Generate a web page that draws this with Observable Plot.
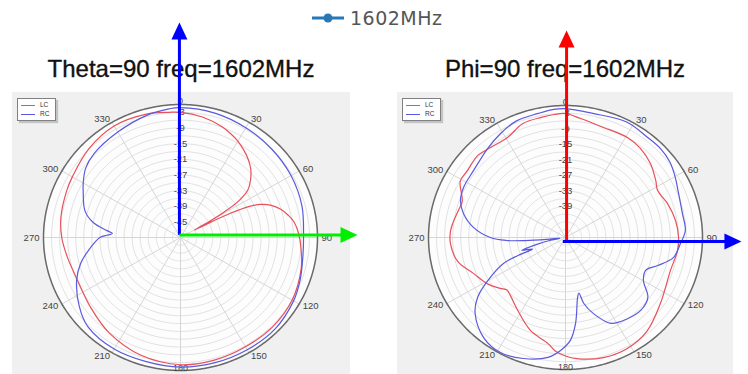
<!DOCTYPE html>
<html><head><meta charset="utf-8">
<script src="https://cdn.jsdelivr.net/npm/d3@7"></script>
<script src="https://cdn.jsdelivr.net/npm/@observablehq/plot@0.6"></script>
<style>
html,body{margin:0;padding:0;background:#fff;}
#root{position:relative;width:748px;height:374px;overflow:hidden;font-family:"Liberation Sans",Arial,sans-serif;}
.panel{position:absolute;background:#f0f0f0;}
.title{position:absolute;top:55px;font-size:24px;color:#111;white-space:nowrap;transform:translateX(-50%);-webkit-text-stroke:0.35px #111;}
.mini{position:absolute;width:37px;height:21px;background:#fff;border:1px solid #808080;box-shadow:2px 2px 1px #c4c4c4;font-size:6.5px;color:#333;}
.mini .row{position:absolute;left:3px;height:8px;line-height:8px;}
.mini .sw{display:inline-block;width:14px;height:0;border-top:1px solid;vertical-align:middle;margin-right:5px;}
.layer{position:absolute;left:0;top:0;}
#legend{position:absolute;left:311px;top:7px;height:22px;font-family:"DejaVu Sans",sans-serif;font-size:19px;letter-spacing:0.5px;color:#555;white-space:nowrap;}
</style></head><body>
<div id="root">
  <div class="panel" style="left:12px;top:92px;width:338px;height:290px"></div>
  <div class="panel" style="left:397px;top:92px;width:336px;height:290px"></div>
  <div id="legend"></div>
  <div class="title" id="t1" style="left:181px"></div>
  <div class="title" id="t2" style="left:565px"></div>
  <div class="mini" style="left:17px;top:98px"><div class="row" style="top:2px"><span class="sw" style="border-color:#e8505a"></span>LC</div><div class="row" style="top:11px"><span class="sw" style="border-color:#5a5ade"></span>RC</div></div>
  <div class="mini" style="left:402px;top:98px"><div class="row" style="top:2px"><span class="sw" style="border-color:#e8505a"></span>LC</div><div class="row" style="top:11px"><span class="sw" style="border-color:#5a5ade"></span>RC</div></div>
</div>
<script>
// ---------------- data ----------------
const legendLabel = "1602MHz";
const leftTitle = "Theta=90 freq=1602MHz";
const rightTitle = "Phi=90 freq=1602MHz";
const seriesNames = ["LC", "RC"];
const angleTicks = [0, 30, 60, 90, 120, 150, 180, 210, 240, 270, 300, 330];
const ringValues = [-48, -45, -42, -39, -36, -33, -30, -27, -24, -21, -18, -15, -12, -9, -6, -3, 0];
const leftRadialLabels = [-3, -9, -15, -21, -27, -33, -39, -45];
const rightRadialLabels = [-3, -9, -15, -21, -27, -33, -39];

// Theta=90 plane
const leftLCdeg = [0,10,20,25,30,35,40,45,50,54,57,59,60.5,61.5,62.5,63.5,65,67,70,74,78,82,88,95,105,120,135,150,165,180,198,216,231,247,260,270,280,293,300,315,330,345,355];
const leftLCdb  = [-3,-4.1,-5.8,-7,-8.3,-10,-11.8,-14,-17,-20,-25,-32,-40,-45,-38,-30,-23,-18.5,-15,-12,-10,-8.3,-7,-6,-4.5,-3,-2.5,-2.6,-2.3,-2.2,-3.5,-5.8,-8.1,-9.3,-8.2,-6.8,-5.8,-5,-4.5,-2.8,-1.6,-2,-2.8];
const leftRCdeg = [0,15,30,45,60,75,90,100,110,120,135,150,165,180,195,210,225,235,247,255,262,270,272,273.5,275.5,280,286,296,300,307,315,330,345,355];
const leftRCdb  = [-1.2,-1.6,-2.4,-3,-3.5,-4.2,-5.2,-4.8,-3.6,-2.4,-1.3,-1.3,-1.3,-1.3,-1.7,-1.6,-2.4,-5,-9,-12.5,-16.5,-21,-24,-25.6,-23.5,-18,-14,-10.7,-9.2,-6.8,-5.5,-4.3,-2.5,-1.5];

// Phi=90 plane
const rightLCdeg = [0,7,18,31,39,48,57,62,71,81,90,97,108,126,140,152,163,175,180,185,189,200,212,222,227,231,238,248,257,267,273,277,285,290,299,305,314,321,331,340,349,355];
const rightLCdb  = [-3.1,-4.7,-6.2,-6,-6.7,-8.4,-10.9,-12.2,-10.8,-9.5,-8.9,-9,-9.9,-7.4,-3.8,-2.3,-2.5,-4,-5.2,-7,-9.5,-12.8,-17.6,-20.5,-21.2,-19.8,-17,-14,-9.8,-8.1,-8.1,-8.6,-9.8,-10.1,-6.2,-6.3,-5.5,-6.4,-6.7,-4.2,-3.7,-3.3];
const rightRCdeg = [0,12,27,38,46,53,60,68,78,86.5,93,101,107.5,113,120,127,135,144,153,160.5,165,167,169,173.6,177.4,182.4,188,198.5,208.6,218,229,234.7,240,246.5,248.5,250,253,256,259,262,264,265.5,267,270,276.5,283.7,290,297,307,320,329,338,348,355];
const rightRCdb  = [-1.2,-2,-0.9,-1.7,-1.7,-2.4,-3.9,-5.6,-6.5,-6.3,-8.1,-10.1,-15,-18.6,-17.5,-12.6,-11.3,-12.1,-13.8,-19.8,-24.6,-29,-27.4,-17.5,-11.2,-7.3,-4.2,-1.7,-0.4,-1.7,-6.4,-10.9,-17.6,-25.8,-32,-38,-34,-40,-45,-49,-44,-36,-29,-23,-16.5,-11.9,-9.4,-8.4,-8.1,-6,-4.1,-2.4,-2,-1.3];

// ---------------- drawing ----------------
const DB_MIN = -51;
const R = -DB_MIN;
const rad = d => d * Math.PI / 180;
const px = (deg, db) => (db - DB_MIN) * Math.sin(rad(deg));
const py = (deg, db) => (db - DB_MIN) * Math.cos(rad(deg));

function series(degs, dbs, name) {
  return degs.map((a, i) => ({name, x: px(a, dbs[i]), y: py(a, dbs[i])}));
}
function ring(v, n = 180) {
  return d3.range(n).map(i => ({ring: v, x: px(i * 360 / n, v), y: py(i * 360 / n, v)}));
}

const headUp = {draw(ctx) { ctx.moveTo(0, 0); ctx.lineTo(8, 17); ctx.lineTo(-8, 17); ctx.closePath(); }};

function polarPanel({cx, cy, rx, ry, lc, rc, labels, arrows}) {
  const ux = rx / R, uy = ry / R; // px per unit
  const rings = ringValues.flatMap(v => ring(v));
  const outer = ring(0, 360);
  const ang = (f) => angleTicks.filter(f);
  const lab = (a) => ({a, x: (R + 1.5) * Math.sin(rad(a)), y: (R + 1.5) * Math.cos(rad(a))});
  const shafts = arrows.map(a => {
    const back = 12 / (a.dir === "up" ? uy : ux);
    return {...a, x2: a.dir === "up" ? a.x0 : a.tip - back, y2: a.dir === "up" ? a.tip - back : a.y0};
  });
  const heads = arrows.map(a => ({...a, hx: a.dir === "up" ? a.x0 : a.tip, hy: a.dir === "up" ? a.tip : a.y0}));
  const marks = [
    Plot.line(outer, {x: "x", y: "y", fill: "#fdfdfd", stroke: "none", curve: "linear-closed"}),
    Plot.line(rings, {x: "x", y: "y", z: "ring", stroke: "#dedede", strokeWidth: 0.9, curve: "linear-closed"}),
    Plot.link(angleTicks, {x1: () => 0, y1: () => 0, x2: a => R * Math.sin(rad(a)), y2: a => R * Math.cos(rad(a)), stroke: "#d6d6d6", strokeWidth: 1}),
    Plot.line(outer, {x: "x", y: "y", stroke: "#6a6a6a", strokeWidth: 1.5, curve: "linear-closed"}),
    Plot.text(labels, {x: () => 0, y: v => v - DB_MIN, text: v => String(v), fill: "#444", fontSize: 9.5}),
    Plot.text(ang(a => a > 0 && a < 180).map(lab), {x: "x", y: "y", text: d => String(d.a), textAnchor: "start", fill: "#444", fontSize: 9.5}),
    Plot.text(ang(a => a > 180).map(lab), {x: "x", y: "y", text: d => String(d.a), textAnchor: "end", fill: "#444", fontSize: 9.5}),
    Plot.text(ang(a => a === 0).map(lab), {x: "x", y: "y", text: d => String(d.a), textAnchor: "middle", fill: "#444", fontSize: 9.5}),
    Plot.text(ang(a => a === 180).map(lab), {x: "x", y: "y", text: d => String(d.a), textAnchor: "middle", dy: -6, fill: "#444", fontSize: 9}),
    Plot.line(lc, {x: "x", y: "y", stroke: "#e8505a", strokeWidth: 1.2, curve: "catmull-rom-closed"}),
    Plot.line(rc, {x: "x", y: "y", stroke: "#5a5ade", strokeWidth: 1.2, curve: "catmull-rom-closed"}),
    ...shafts.map(s => Plot.link([s], {x1: "x0", y1: "y0", x2: "x2", y2: "y2", stroke: s.color, strokeWidth: 3})),
    ...heads.map(h => Plot.dot([h], {x: "hx", y: "hy", symbol: headUp, fill: h.color, stroke: "none", rotate: h.dir === "up" ? 0 : 90}))
  ];
  return Plot.plot({
    width: 748, height: 374,
    x: {domain: [-R, R], range: [cx - rx, cx + rx], axis: null},
    y: {domain: [-R, R], range: [cy + ry, cy - ry], axis: null},
    style: {background: "none", overflow: "visible", fontFamily: "'Liberation Sans', Arial, sans-serif"},
    marks
  });
}

const left = polarPanel({
  cx: 180, cy: 237, rx: 137, ry: 133,
  lc: series(leftLCdeg, leftLCdb, seriesNames[0]),
  rc: series(leftRCdeg, leftRCdb, seriesNames[1]),
  labels: leftRadialLabels,
  arrows: [
    {dir: "up", color: "#0000ff", x0: -0.4, y0: 1.0, tip: 82.4},
    {dir: "right", color: "#00ee00", x0: -0.4, y0: 1.0, tip: 65.9}
  ]
});
const right = polarPanel({
  cx: 565, cy: 237, rx: 137, ry: 132,
  lc: series(rightLCdeg, rightLCdb, seriesNames[0]),
  rc: series(rightRCdeg, rightRCdb, seriesNames[1]),
  labels: rightRadialLabels,
  arrows: [
    {dir: "up", color: "#ff0000", x0: 0.4, y0: -1.5, tip: 80},
    {dir: "right", color: "#0000ff", x0: -1.0, y0: -1.5, tip: 65.5}
  ]
});
left.classList.add("layer"); right.classList.add("layer");
const root = document.getElementById("root");
root.appendChild(left); root.appendChild(right);

document.getElementById("t1").textContent = leftTitle;
document.getElementById("t2").textContent = rightTitle;
document.getElementById("legend").innerHTML =
  '<svg width="34" height="22" style="vertical-align:top"><line x1="1" y1="11" x2="33" y2="11" stroke="#2878b5" stroke-width="3"/><circle cx="17" cy="11" r="4.5" fill="#2878b5"/></svg>' +
  '<span style="position:relative;top:0px;margin-left:5px">' + legendLabel + '</span>';
</script>
</body></html>
